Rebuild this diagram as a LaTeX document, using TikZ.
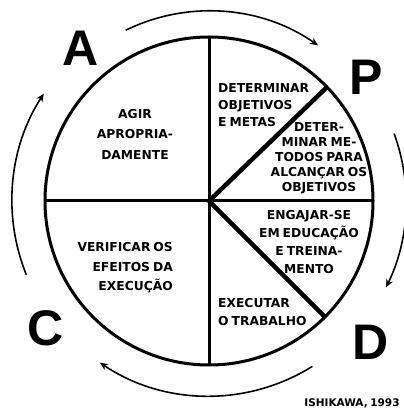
\documentclass[tikz,border=0pt]{standalone}
\usepackage{fontspec}
\setmainfont{DejaVu Sans}[WordSpace=0.7]
\newfontfamily\bigfont{Liberation Sans}
\usetikzlibrary{arrows.meta}
\begin{document}
\begin{tikzpicture}[x=1pt,y=1pt,
  lbl/.style={font=\bfseries\fontsize{12.3}{17}\selectfont, inner sep=0pt},
  big/.style={font=\bigfont\bfseries\fontsize{50}{50}\selectfont, inner sep=0pt},
  cyc/.style={line width=1.6pt, -{Stealth[length=8pt,width=7pt]}}]
\useasboundingbox (-209,-210) rectangle (194,201);
\fill[white] (-209,-210) rectangle (194,201);
\coordinate (O) at (0,0);
\coordinate (T) at (90:164);
\coordinate (B) at (-90:164);
\coordinate (L) at (180:164);
\coordinate (R) at (0:164);
\coordinate (U) at (44:164);
\coordinate (W) at (-45:164);
\draw[line width=3pt] (O) circle[radius=164pt];
\draw[line width=3pt] (T) -- (B);
\draw[line width=3pt] (L) -- (R);
\draw[line width=4.5pt] (O) -- (U);
\draw[line width=4.5pt] (O) -- (W);
% cycle arrows
\draw[cyc] (116:190) arc[start angle=116, end angle=55, radius=190pt];
\draw[cyc] (20:197) arc[start angle=20, end angle=-26, radius=197pt];
\draw[cyc] (-58:195) arc[start angle=-58, end angle=-124, radius=195pt];
\draw[cyc] (202:197) arc[start angle=202, end angle=147, radius=197pt];
% big letters
\node[big] (A) at (-128,153) {A};
\node[big] (P) at (157,124) {P};
\node[big] (C) at (-163,-127) {C};
\node[big] (D) at (162,-141) {D};
% labels
\node[lbl, align=left, anchor=west] (p1) at (9,96) {DETERMINAR\\OBJETIVOS\\E METAS};
\node[lbl, align=center, font=\bfseries\fontsize{12.3}{15}\selectfont] (p2) at (110,43) {DETER-\\MINAR ME-\\TODOS PARA\\ALCANÇAR OS\\OBJETIVOS};
\node[lbl, align=center, font=\bfseries\fontsize{12.3}{17.7}\selectfont] (d1) at (100,-41) {ENGAJAR-SE\\EM EDUCAÇÃO\\E TREINA-\\MENTO};
\node[lbl, align=left, anchor=west, font=\bfseries\fontsize{12.3}{18}\selectfont] (d2) at (9,-111) {EXECUTAR\\O TRABALHO};
\node[lbl, align=center, font=\bfseries\fontsize{12.3}{20.5}\selectfont] (a1) at (-74,67) {AGIR\\APROPRIA-\\DAMENTE};
\node[lbl, align=right, anchor=east, font=\bfseries\fontsize{12.3}{19.5}\selectfont] (c1) at (-36,-67) {VERIFICAR OS\\EFEITOS DA\\EXECUÇÃO};
\node[lbl, font=\bfseries\fontsize{10.5}{10.5}\selectfont] (src) at (143,-202) {ISHIKAWA, 1993};
\end{tikzpicture}
\end{document}
